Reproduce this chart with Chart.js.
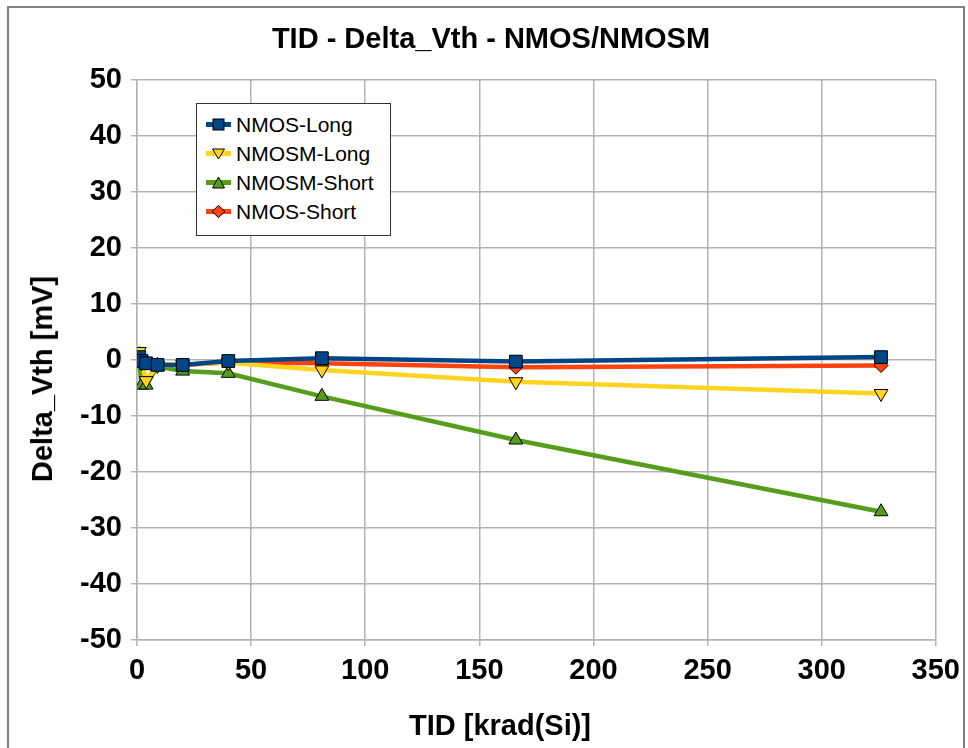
<!DOCTYPE html>
<html lang="en">
<head>
    <meta charset="UTF-8">
    <title>TID - Delta_Vth - NMOS/NMOSM</title>
    <script src="https://cdn.jsdelivr.net/npm/chart.js"></script>
    <style>
        body {
            margin: 0;
            padding: 0;
            background: #fff;
            font-family: "Liberation Sans", Arial, sans-serif;
        }
        .frame {
            position: absolute;
            left: 7px;
            top: 6px;
            width: 954px;
            height: 780px;
            border: 2px solid #808080;
        }
        .chart-box {
            position: absolute;
            left: 0;
            top: 0;
            width: 968px;
            height: 748px;
        }
        .axis-title {
            position: absolute;
            font-size: 29px;
            font-weight: bold;
            color: #000;
            white-space: nowrap;
            line-height: 34px;
        }
        .x-title {
            left: 500px;
            top: 725px;
            transform: translate(-50%, -50%);
        }
        .y-title {
            left: 42px;
            top: 379px;
            transform: translate(-50%, -50%) rotate(-90deg);
        }
        .legend {
            position: absolute;
            left: 196px;
            top: 103px;
            width: 195px;
            height: 133px;
            border: 1px solid #333;
            background: #fff;
            padding-top: 6px;
            box-sizing: border-box;
        }
        .legend-item {
            height: 29px;
            display: flex;
            align-items: center;
            font-size: 21px;
            color: #000;
        }
        .legend-item svg {
            margin-left: 9px;
            margin-right: 5px;
        }
    </style>
</head>
<body>
    <div class="frame"></div>
    <div class="chart-box">
        <canvas id="tidChart" width="968" height="748"></canvas>
    </div>
    <div class="axis-title x-title">TID [krad(Si)]</div>
    <div class="axis-title y-title">Delta_Vth [mV]</div>
    <div class="legend" id="legend"></div>

    <script>
        // TID steps [krad(Si)]
        const tidDose = [0, 1, 2, 4, 9, 20, 40, 81, 166, 326];
        // Delta_Vth [mV]
        const nmosLong   = [0.3, 0.5, -0.2, -0.6, -0.9, -0.9, -0.2, 0.3, -0.3, 0.5];
        const nmosmLong  = [0.5, 1.5, -0.5, -3.7, -1.0, -0.8, -0.5, -1.8, -3.9, -6.0];
        const nmosmShort = [0, -0.3, -4.5, -4.5, -1.2, -2.0, -2.4, -6.5, -14.3, -27.1];
        const nmosShort  = [0, 0.2, -0.2, -0.5, -0.8, -0.9, -0.4, -0.6, -1.3, -1.0];

        const seriesNames = ['NMOS-Long', 'NMOSM-Long', 'NMOSM-Short', 'NMOS-Short'];
        const seriesColors = ['#004586', '#ffd320', '#579d1c', '#ff420e'];
        const xTicks = [0, 50, 100, 150, 200, 250, 300, 350];
        const yTicks = [-50, -40, -30, -20, -10, 0, 10, 20, 30, 40, 50];

        const toPoints = vals => tidDose.map((x, i) => ({ x: x, y: vals[i] }));

        const fontFamily = '"Liberation Sans", Arial, sans-serif';
        const gridColor = '#b3b3b3';

        const styles = [
            { pointStyle: 'rect', pointRadius: 9, pointRotation: 0 },
            { pointStyle: 'triangle', pointRadius: 8, pointRotation: 180 },
            { pointStyle: 'triangle', pointRadius: 8, pointRotation: 0 },
            { pointStyle: 'rectRot', pointRadius: 7, pointRotation: 0 }
        ];

        const datasets = [nmosLong, nmosmLong, nmosmShort, nmosShort].map((vals, i) => ({
            label: seriesNames[i],
            data: toPoints(vals),
            borderColor: seriesColors[i],
            backgroundColor: seriesColors[i],
            borderWidth: 4.5,
            pointBorderColor: '#000',
            pointBorderWidth: 1,
            pointBackgroundColor: seriesColors[i],
            pointStyle: styles[i].pointStyle,
            pointRadius: styles[i].pointRadius,
            pointRotation: styles[i].pointRotation,
            tension: 0
        }));

        new Chart(document.getElementById('tidChart').getContext('2d'), {
            type: 'line',
            data: { datasets: datasets },
            options: {
                responsive: false,
                animation: false,
                layout: { padding: { left: 46, right: 32, top: 0, bottom: 8 } },
                plugins: {
                    legend: { display: false },
                    tooltip: { enabled: false },
                    title: {
                        display: true,
                        text: 'TID - Delta_Vth - NMOS/NMOSM',
                        color: '#000',
                        font: { family: fontFamily, size: 29, weight: 'bold' },
                        padding: { top: 23, bottom: 22 }
                    }
                },
                scales: {
                    x: {
                        type: 'linear',
                        min: 0,
                        max: 350,
                        afterBuildTicks: s => { s.ticks = xTicks.map(v => ({ value: v })); },
                        afterFit: s => { s.height = 100; },
                        ticks: {
                            color: '#000',
                            padding: 8,
                            font: { family: fontFamily, size: 29, weight: 'bold' }
                        },
                        grid: { color: gridColor, lineWidth: 1.5, tickLength: 6 },
                        border: { color: gridColor, width: 1.5 }
                    },
                    y: {
                        type: 'linear',
                        min: -50,
                        max: 50,
                        afterBuildTicks: s => { s.ticks = yTicks.map(v => ({ value: v })); },
                        afterFit: s => { s.width = 91; },
                        ticks: {
                            color: '#000',
                            padding: 9,
                            font: { family: fontFamily, size: 29, weight: 'bold' }
                        },
                        grid: { color: gridColor, lineWidth: 1.5, tickLength: 6 },
                        border: { color: gridColor, width: 1.5 }
                    }
                }
            }
        });

        // legend: line with marker, like the original
        const markerSvg = i => {
            const c = seriesColors[i];
            let shape = '';
            if (i === 0) shape = `<rect x="7" y="1" width="11" height="11" fill="${c}" stroke="#000" stroke-width="1"/>`;
            if (i === 1) shape = `<polygon points="6.5,2 18.5,2 12.5,12" fill="${c}" stroke="#000" stroke-width="1"/>`;
            if (i === 2) shape = `<polygon points="6.5,12 18.5,12 12.5,1" fill="${c}" stroke="#000" stroke-width="1"/>`;
            if (i === 3) shape = `<polygon points="12.5,0.5 19,6.5 12.5,12.5 6,6.5" fill="${c}" stroke="#000" stroke-width="1"/>`;
            return `<svg width="25" height="13" viewBox="0 0 25 13">
                <line x1="0" y1="6.5" x2="25" y2="6.5" stroke="${c}" stroke-width="5"/>${shape}</svg>`;
        };
        document.getElementById('legend').innerHTML = seriesNames
            .map((name, i) => `<div class="legend-item">${markerSvg(i)}<span>${name}</span></div>`)
            .join('');
    </script>
</body>
</html>
